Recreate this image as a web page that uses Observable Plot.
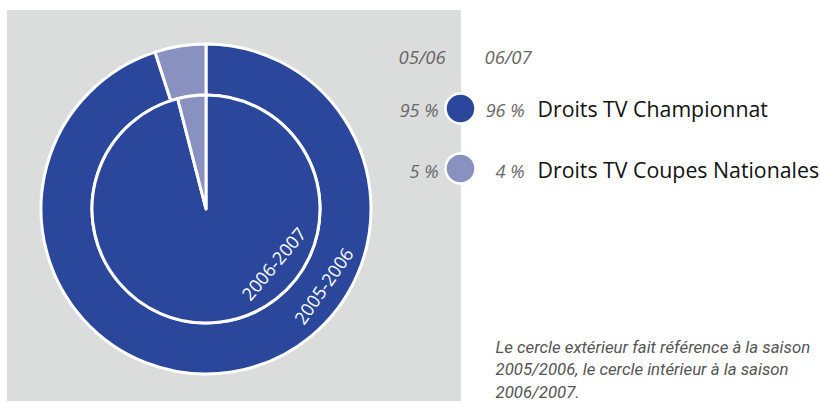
<!DOCTYPE html>
<html><head><meta charset="utf-8">
<script src="https://cdn.jsdelivr.net/npm/d3@7"></script>
<script src="https://cdn.jsdelivr.net/npm/@observablehq/plot@0.6"></script>
<style>html,body{margin:0;padding:0;background:#fff}</style>
</head><body><div id="chart"></div>
<script>
// ---- data ----
const categories = ["Droits TV Championnat", "Droits TV Coupes Nationales"];
const seasons = ["2005-2006", "2006-2007"];
const seasonShort = ["05/06", "06/07"];
const share0506 = [95, 5];
const share0607 = [96, 4];
const captionLines = [
  "Le cercle extérieur fait référence à la saison",
  "2005/2006, le cercle intérieur à la saison",
  "2006/2007."
];

// ---- layout / style ----
const colors = ["#2a479c", "#8891bf"];
const bg = "#dbdddc";
const cx = 206, cy = 209, rOuter = 165, rInner = 114;
const rowY = [116, 177];        // baselines of legend rows
const circleY = [108, 168];
const colLeft = [398, 484];     // left edges of header labels
const colRight = [438, 524];    // right edges of value columns
const sans = "'Open Sans', 'Noto Sans', sans-serif";

const rings = [
  {season: seasons[0], r0: rInner, r1: rOuter, data: categories.map((c, i) => ({category: c, value: share0506[i]}))},
  {season: seasons[1], r0: 0, r1: rInner, data: categories.map((c, i) => ({category: c, value: share0607[i]}))}
];

function pieMark(index, scales, values, dimensions, context) {
  const g = d3.create("svg:g");
  const pie = d3.pie().sort(null).value(d => d.value);
  for (const ring of rings) {
    const arc = d3.arc().innerRadius(ring.r0).outerRadius(ring.r1);
    g.append("g")
      .attr("transform", `translate(${scales.x(cx)},${scales.y(cy)})`)
      .selectAll("path")
      .data(pie(ring.data))
      .join("path")
      .attr("d", arc)
      .attr("fill", d => scales.color(d.data.category))
      .attr("stroke", "white")
      .attr("stroke-width", 3)
      .attr("stroke-linejoin", "round");
  }
  return g.node();
}

const seasonLabels = [
  {text: seasons[0], x: 324, y: 286, rotate: -55},
  {text: seasons[1], x: 274, y: 264, rotate: -50}
];

const legendRows = categories.map((c, i) => ({category: c, a: share0506[i], b: share0607[i]}));

const chart = Plot.plot({
  width: 820,
  height: 401,
  margin: 0,
  x: {type: "identity", axis: null},
  y: {type: "identity", axis: null},
  color: {domain: categories, range: colors},
  style: {background: "white"},
  marks: [
    Plot.rect([0], {x1: 7, x2: 461, y1: 10, y2: 401, fill: bg}),
    pieMark,
    ...seasonLabels.map(s => Plot.text([s], {
      x: "x", y: "y", text: "text", rotate: s.rotate,
      fill: "white", fontSize: 18, fontFamily: sans
    })),
    // column headers
    Plot.text(seasonShort, {
      x: (d, i) => colLeft[i], y: 63, text: d => d, textAnchor: "start", lineAnchor: "bottom",
      fill: "#666", fontSize: 18.5, fontStyle: "italic", fontFamily: sans
    }),
    // 05/06 values
    Plot.text(legendRows, {
      x: colRight[0], y: (d, i) => rowY[i], text: d => `${d.a} %`, textAnchor: "end", lineAnchor: "bottom",
      fill: "#666", fontSize: 18, fontStyle: "italic", fontFamily: sans
    }),
    // 06/07 values
    Plot.text(legendRows, {
      x: colRight[1], y: (d, i) => rowY[i], text: d => `${d.b} %`, textAnchor: "end", lineAnchor: "bottom",
      fill: "#666", fontSize: 18, fontStyle: "italic", fontFamily: sans
    }),
    Plot.dot(legendRows, {
      x: 460, y: (d, i) => circleY[i], r: 15, fill: "category", stroke: "white", strokeWidth: 2.5
    }),
    Plot.text(legendRows, {
      x: 537, y: (d, i) => rowY[i], text: "category", textAnchor: "start", lineAnchor: "bottom",
      fill: "#111", fontSize: 21.3, fontFamily: sans
    }),
    Plot.text(captionLines, {
      x: 495, y: (d, i) => 352 + i * 22.5, text: d => d, textAnchor: "start", lineAnchor: "bottom",
      fill: "#555", fontSize: 16.8, fontStyle: "italic", fontFamily: "Roboto, sans-serif"
    })
  ]
});
document.getElementById("chart").append(chart);
</script>
</body></html>
